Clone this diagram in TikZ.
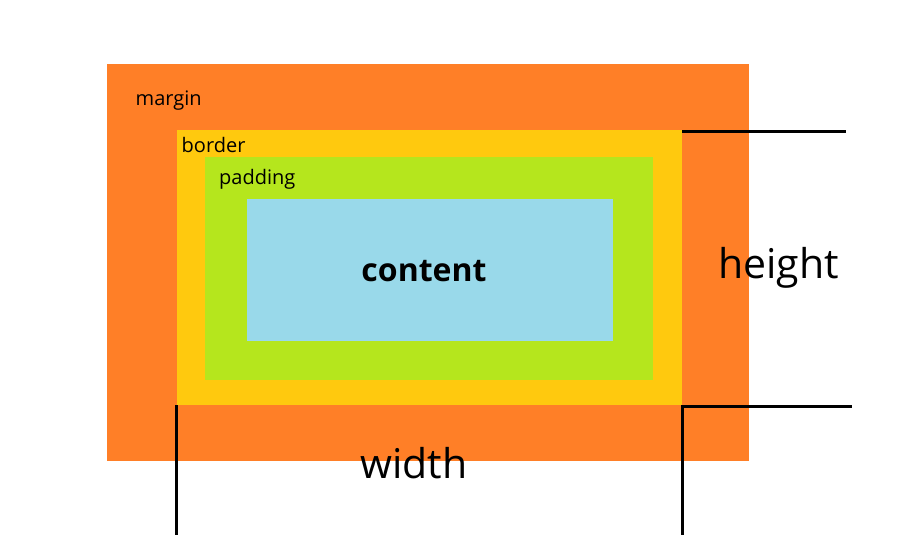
\documentclass[tikz,border=0pt]{standalone}
\usepackage{fontspec}
\setmainfont{Open Sans}
\usepackage{xcolor}
\usetikzlibrary{positioning}

\definecolor{marginorange}{HTML}{FF7F27}
\definecolor{borderyellow}{HTML}{FFC90E}
\definecolor{paddinggreen}{HTML}{B5E61D}
\definecolor{contentblue}{HTML}{99D9EA}

\tikzset{
    boxlayer/.style={inner sep=0pt, outer sep=0pt, anchor=center},
    smalllabel/.style={anchor=base west, inner sep=0pt, font=\fontsize{20}{24}\selectfont},
    biglabel/.style={anchor=base west, inner sep=0pt, font=\fontsize{41}{48}\selectfont},
    measure/.style={line width=3pt, black}
}

\begin{document}
\begin{tikzpicture}[x=1pt, y=-1pt]
        \useasboundingbox (0, 0) rectangle (904, 535);

        \node[boxlayer, fill=marginorange, minimum width=642, minimum height=397] (margin) at (428, 262.5) {};
        \node[boxlayer, fill=borderyellow, minimum width=505, minimum height=275] (border) at (429.5, 267.5) {};
        \node[boxlayer, fill=paddinggreen, minimum width=448, minimum height=223] (padding) at (429, 268.5) {};
        \node[boxlayer, fill=contentblue, minimum width=366, minimum height=142] (content) at (430, 270) {};

        \node[smalllabel] (marginlbl) at (135.5, 105) {margin};
        \node[smalllabel] (borderlbl) at (181.5, 152) {border};
        \node[smalllabel] (paddinglbl) at (219, 184) {padding};

        \node[anchor=base, inner sep=0pt, font=\fontsize{32}{38}\selectfont\bfseries] (contentlbl) at (424, 281) {content};

        \node[biglabel] (heightlbl) at (718, 278) {height};
        \node[biglabel] (widthlbl) at (360, 478) {width};

        \coordinate (topend) at (846, 131);
        \coordinate (botend) at (852, 406);
        \coordinate (leftend) at (176, 535);
        \coordinate (rightend) at (682, 535);

        \draw[measure] (border.north east) ++(0, 1) -- (topend);
        \draw[measure] (border.south east) ++(0, 1) -- (botend);
        \draw[measure] (border.south west) ++(-1, 0) -- (leftend);
        \draw[measure] (border.south east) -- (rightend);

    \end{tikzpicture}
\end{document}
